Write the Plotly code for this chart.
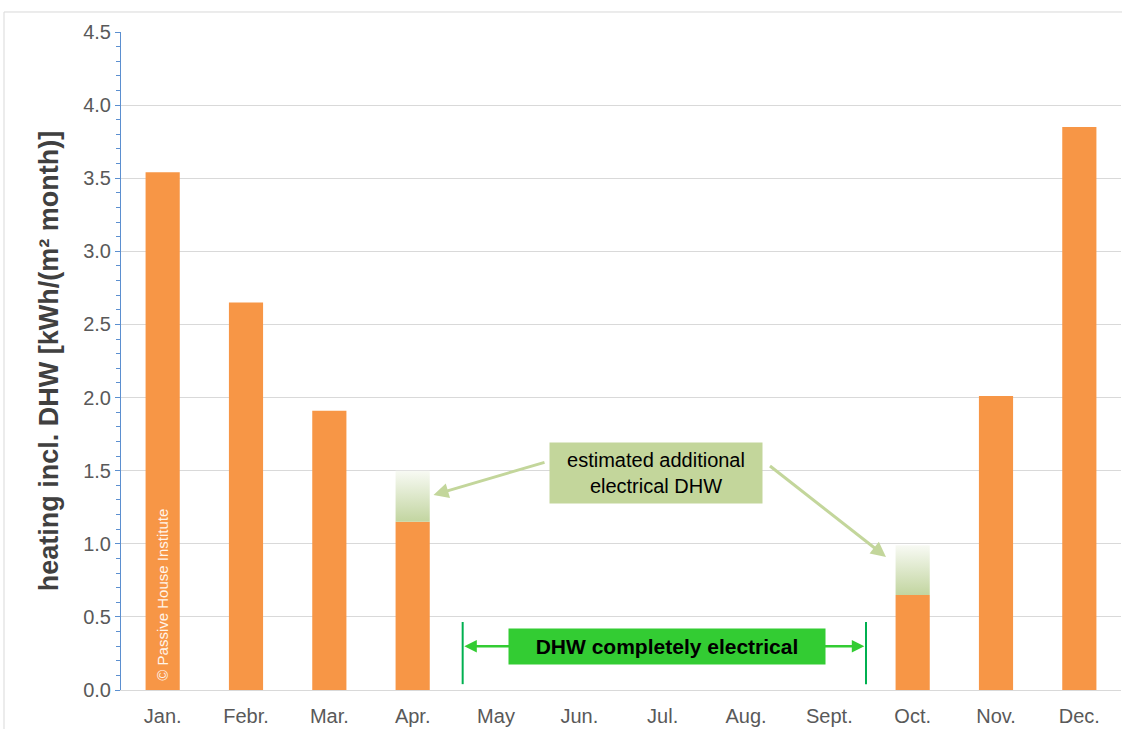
import plotly.graph_objects as go

months = ["Jan.", "Febr.", "Mar.", "Apr.", "May", "Jun.", "Jul.", "Aug.", "Sept.", "Oct.", "Nov.", "Dec."]
heating = [3.54, 2.65, 1.91, 1.15, 0, 0, 0, 0, 0, 0.65, 2.01, 3.85]
# estimated total incl. additional electrical DHW (only Apr. and Oct.)
dhw_total = {3: 1.50, 9: 0.99}

bar_w = 0.41
font = "Arial, Liberation Sans, sans-serif"
xs = list(range(len(months)))

fig = go.Figure()
fig.add_trace(go.Bar(x=xs, y=heating, width=bar_w, marker_color="#f79646",
                     marker_line_width=0, showlegend=False))

# gradient blocks on top of Apr. / Oct.
for i, top in dhw_total.items():
    base = heating[i]
    x0, x1 = i - bar_w / 2, i + bar_w / 2
    fig.add_trace(go.Scatter(
        x=[x0, x1, x1, x0, x0], y=[base, base, top, top, base],
        mode="lines", line_width=0, fill="toself",
        fillgradient=dict(type="vertical",
                          colorscale=[[0, "#c2d5a0"], [1, "#f8faf4"]]),
        showlegend=False, hoverinfo="skip"))

arrow_green = "#c3d69b"
fig.add_annotation(x=5.92, y=1.484, text="estimated additional<br>electrical DHW",
                   showarrow=False, bgcolor=arrow_green, width=210, height=58,
                   font=dict(family=font, size=20, color="#000"), align="center")
for (hx, hy, tx, ty) in [(3.25, 1.334, 4.6, 1.56), (8.68, 0.91, 7.27, 1.54)]:
    fig.add_annotation(x=hx, y=hy, ax=tx, ay=ty, axref="x", ayref="y", text="",
                       showarrow=True, arrowhead=2, arrowsize=1, arrowwidth=3,
                       arrowcolor=arrow_green)

# "DHW completely electrical" range marker
for xv in [3.6, 8.44]:
    fig.add_shape(type="line", x0=xv, x1=xv, y0=0.04, y1=0.465,
                  line=dict(color="#00b050", width=2))
for (hx, tx) in [(3.62, 4.46), (8.42, 7.63)]:
    fig.add_annotation(x=hx, y=0.30, ax=tx, ay=0.30, axref="x", ayref="y", text="",
                       showarrow=True, arrowhead=2, arrowsize=1, arrowwidth=2.5,
                       arrowcolor="#33cc33")
fig.add_annotation(x=6.05, y=0.30, text="<b>DHW completely electrical</b>",
                   showarrow=False, bgcolor="#33cc33", width=314, height=33,
                   font=dict(family=font, size=21, color="#000"))

fig.add_annotation(x=0, y=0.65, text="© Passive House Institute", textangle=-90,
                   showarrow=False, font=dict(family=font, size=15, color="#fff4ea"))

# outer frame
fig.add_shape(type="rect", xref="paper", yref="paper", x0=-0.117, x1=1.01,
              y0=-0.1, y1=1.0304, line=dict(color="#d9d9d9", width=1), layer="below")

fig.update_layout(
    width=1122, height=729,
    margin=dict(l=121, r=1, t=32, b=39),
    paper_bgcolor="white", plot_bgcolor="white",
    font=dict(family=font, color="#595959"),
    bargap=0.59,
)
fig.update_xaxes(range=[-0.5, 11.5], tickvals=xs, ticktext=months,
                 tickfont=dict(size=20), showgrid=False, showline=True,
                 linecolor="#d9d9d9", ticks="", zeroline=False, ticklabelstandoff=8)
fig.update_yaxes(range=[0, 4.5], dtick=0.5, tickformat=".1f",
                 tickfont=dict(size=20), gridcolor="#d9d9d9", zeroline=False,
                 showline=True, linecolor="#5b8fd0", linewidth=1,
                 ticks="outside", ticklen=5, tickcolor="#5b8fd0",
                 minor=dict(dtick=0.1, ticks="outside", ticklen=4, tickcolor="#5b8fd0",
                            showgrid=False),
                 title=dict(text="<b>heating incl. DHW [kWh/(m² month)]</b>",
                            font=dict(size=27, color="#404040"), standoff=16))

fig.write_html("out.html", config={"displayModeBar": False},
               post_script="document.body.style.margin='0';")
